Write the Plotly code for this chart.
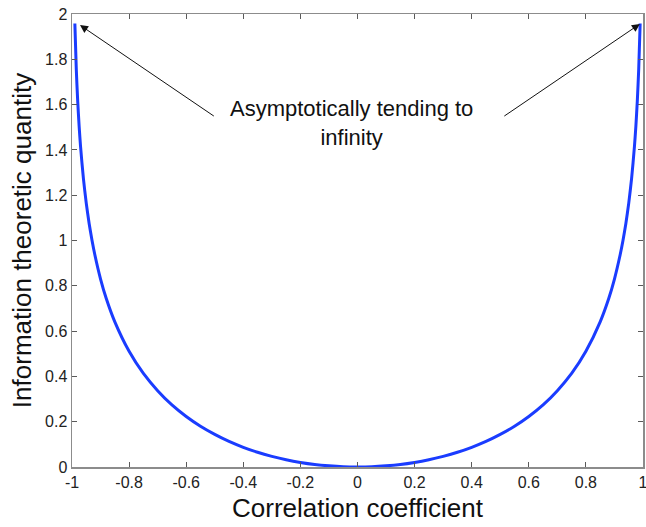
import plotly.graph_objects as go

# Data
corr = [-0.99, -0.985, -0.98, -0.975, -0.97, -0.96, -0.95, -0.94, -0.93, -0.92, -0.9, -0.88,
        -0.85, -0.8, -0.75, -0.7, -0.65, -0.6, -0.55, -0.5, -0.45, -0.4, -0.35, -0.3,
        -0.25, -0.2, -0.15, -0.1, -0.05, 0.0, 0.05, 0.1, 0.15, 0.2, 0.25, 0.3, 0.35,
        0.4, 0.45, 0.5, 0.55, 0.6, 0.65, 0.7, 0.75, 0.8, 0.85, 0.88, 0.9, 0.92, 0.93,
        0.94, 0.95, 0.96, 0.97, 0.975, 0.98, 0.985, 0.99]
info = [1.958, 1.757, 1.614, 1.504, 1.414, 1.273, 1.164, 1.075, 1.001, 0.937, 0.830, 0.744,
        0.641, 0.511, 0.413, 0.337, 0.274, 0.223, 0.180, 0.144, 0.113, 0.087, 0.065, 0.047,
        0.032, 0.020, 0.011, 0.005, 0.001, 0.0, 0.001, 0.005, 0.011, 0.020, 0.032, 0.047, 0.065,
        0.087, 0.113, 0.144, 0.180, 0.223, 0.274, 0.337, 0.413, 0.511, 0.641, 0.744, 0.830, 0.937, 1.001,
        1.075, 1.164, 1.273, 1.414, 1.504, 1.614, 1.757, 1.958]

x_ticks = [-1, -0.8, -0.6, -0.4, -0.2, 0, 0.2, 0.4, 0.6, 0.8, 1]
x_tick_labels = ["-1", "-0.8", "-0.6", "-0.4", "-0.2", "0", "0.2", "0.4", "0.6", "0.8", "1"]
y_ticks = [0, 0.2, 0.4, 0.6, 0.8, 1, 1.2, 1.4, 1.6, 1.8, 2]
y_tick_labels = ["0", "0.2", "0.4", "0.6", "0.8", "1", "1.2", "1.4", "1.6", "1.8", "2"]

annotation_text = "Asymptotically tending to<br>infinity"

FONT = "Liberation Sans, Arial, Helvetica, sans-serif"

fig = go.Figure()
fig.add_trace(go.Scatter(x=corr, y=info, mode="lines",
                         line=dict(color="#1a3cff", width=3, shape="spline", smoothing=0.6),
                         showlegend=False, hoverinfo="skip", cliponaxis=True))

axis_common = dict(showline=True, linecolor="#8c8c8c", linewidth=1.5, mirror="ticks",
                   ticks="inside", ticklen=5, tickcolor="#5a5a5a", tickwidth=1,
                   showgrid=False, zeroline=False, automargin=False,
                   ticklabeloverflow="allow",
                   tickfont=dict(family=FONT, size=16, color="#222222"))

fig.update_xaxes(range=[-1, 1], tickvals=x_ticks, ticktext=x_tick_labels,
                 title=dict(text="Correlation coefficient", font=dict(family=FONT, size=26, color="#111111"),
                            standoff=9),
                 **axis_common)
fig.update_yaxes(range=[0, 2], tickvals=y_ticks, ticktext=y_tick_labels,
                 title=dict(text="Information theoretic quantity", font=dict(family=FONT, size=26, color="#111111"),
                            standoff=6),
                 **axis_common)

# Text label
fig.add_annotation(x=-0.021, y=1.52, xref="x", yref="y", text=annotation_text, showarrow=False,
                   font=dict(family=FONT, size=22, color="#111111"), align="center")
# Arrows
fig.add_annotation(x=-0.972, y=1.951, ax=-0.498, ay=1.545, xref="x", yref="y", axref="x", ayref="y",
                   text="", showarrow=True, arrowhead=2, arrowsize=1.6, arrowwidth=1, arrowcolor="#111111")
fig.add_annotation(x=0.989, y=1.956, ax=0.509, ay=1.545, xref="x", yref="y", axref="x", ayref="y",
                   text="", showarrow=True, arrowhead=2, arrowsize=1.6, arrowwidth=1, arrowcolor="#111111")

fig.update_layout(width=646, height=527, margin=dict(l=72, r=3, t=14, b=60),
                  plot_bgcolor="white", paper_bgcolor="white", font=dict(family=FONT))

fig.write_html("out.html",
               config={"displayModeBar": False, "staticPlot": True},
               post_script="document.body.style.margin='0';document.body.style.overflow='hidden';")
